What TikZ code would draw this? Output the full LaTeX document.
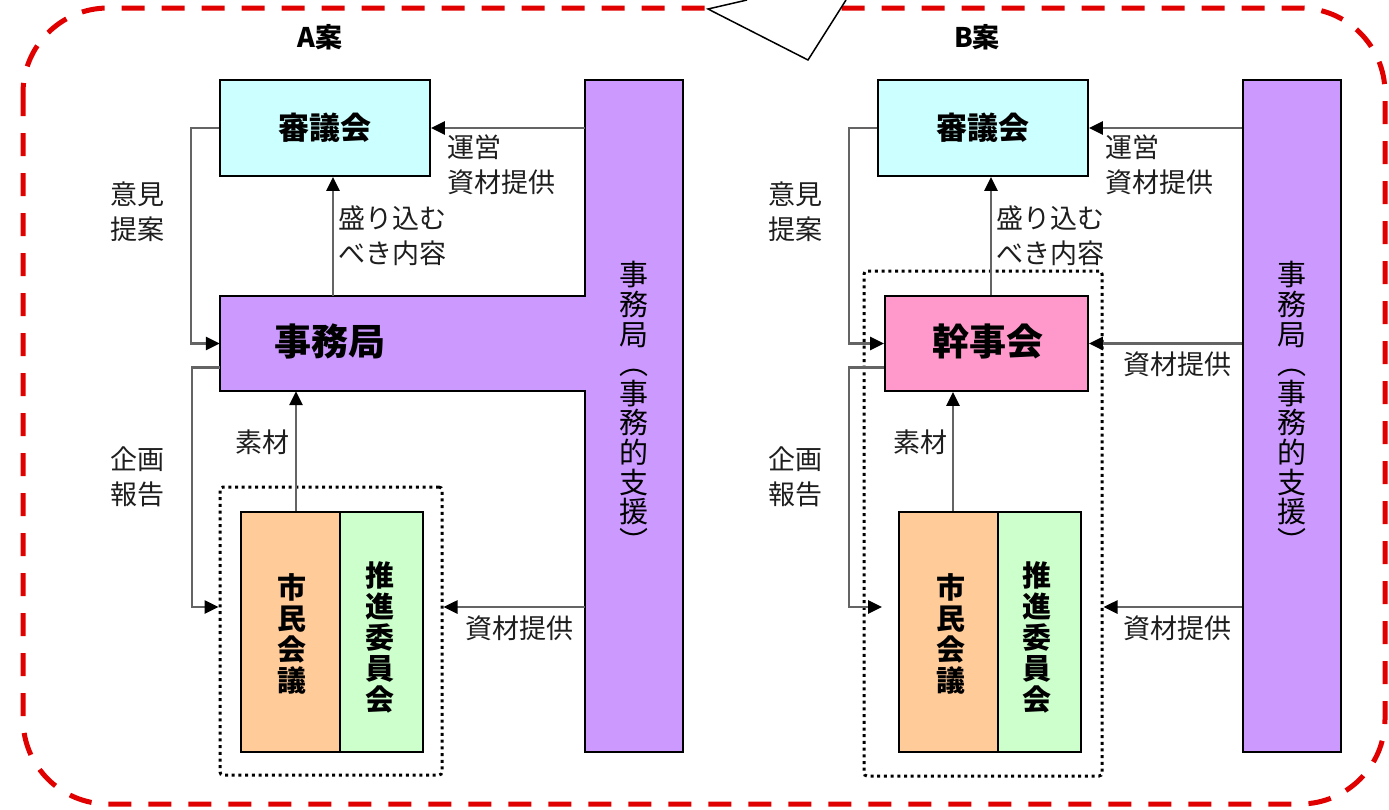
\documentclass[tikz,border=0pt]{standalone}
\usepackage{fontspec}
\setmainfont{Noto Sans CJK JP}
\usetikzlibrary{arrows.meta,calc}
\definecolor{cyanbox}{HTML}{CCFFFF}
\definecolor{purplebox}{HTML}{CC99FF}
\definecolor{pinkbox}{HTML}{FF99CC}
\definecolor{orangebox}{HTML}{FFCC99}
\definecolor{greenbox}{HTML}{CCFFCC}
\definecolor{borderred}{RGB}{225,0,0}
\definecolor{conngray}{RGB}{100,100,100}
\definecolor{labeltext}{RGB}{30,30,30}
\begin{document}
\begin{tikzpicture}[x=1pt,y=-1pt,
  box/.style={draw=black, line width=1.8pt, inner sep=0pt},
  ghost/.style={draw=none, inner sep=0pt},
  dotbox/.style={draw=black, line width=3pt, dash pattern=on 3pt off 3.7pt, rounded corners=3pt, inner sep=0pt},
  conn/.style={draw=conngray, line width=2.6pt, -{Triangle[length=14pt,width=13pt,color=black]}},
  lbl/.style={font=\fontsize{27}{35}\selectfont, align=left, inner sep=0pt, text=labeltext},
  title/.style={font=\fontsize{31}{33}\selectfont\bfseries, inner sep=0pt},
  bigtitle/.style={font=\fontsize{37}{39}\selectfont\bfseries, inner sep=0pt},
  vtext/.style={font=\fontsize{29}{29.6}\selectfont, align=center, inner sep=0pt},
  vbold/.style={font=\fontsize{29}{31}\selectfont\bfseries, align=center, inner sep=0pt},
  head/.style={font=\fontsize{27}{29}\selectfont\bfseries, inner sep=0pt}]
\useasboundingbox (0,0) rectangle (1389,809);
\fill[white] (0,0) rectangle (1389,809);

% outer red dashed frame
\draw[borderred, line width=5pt, dash pattern=on 23pt off 17pt, rounded corners=85pt]
  (23,8) rectangle (1385,804);

% callout pointer
\fill[white] (747,0) -- (708,9) -- (808,60) -- (846,0) -- cycle;
\draw[black, line width=1.5pt, line join=miter] (747,0) -- (708,9) -- (808,60) -- (846,0);

% headings
\node[head] (headA) at (320,37) {A案};
\node[head] (headB) at (977,37) {B案};

% ================= A =================
\node[box, fill=cyanbox, minimum width=210pt, minimum height=96pt] (shingiA) at (325,128) {};
\node[title] (shingiAt) at (shingiA) {審議会};
\node[ghost, minimum width=98pt, minimum height=672pt] (barA) at (634,416) {};
\node[ghost, minimum width=365pt, minimum height=95pt] (jimuA) at (402.5,343.5) {};
\filldraw[fill=purplebox, draw=black, line width=1.8pt, line join=miter]
  (jimuA.north west) -- (barA.west |- jimuA.north) -- (barA.north west) -- (barA.north east)
  -- (barA.south east) -- (barA.south west) -- (barA.west |- jimuA.south) -- (jimuA.south west) -- cycle;
\node[bigtitle] (jimuAt) at (330,341) {事務局};
\node[vtext] (barAt) at (634,407) {事\\務\\局\\︵\\事\\務\\的\\支\\援\\︶};

\node[dotbox, minimum width=222pt, minimum height=288pt] (dotA) at (331,631) {};
\node[box, fill=orangebox, minimum width=99pt, minimum height=240pt] (shiminA) at (290.5,632) {};
\node[box, fill=greenbox, minimum width=83pt, minimum height=240pt] (suishinA) at (381.5,632) {};
\node[vbold] (shiminAt) at (292,634) {市\\民\\会\\議};
\node[vbold] (suishinAt) at (380,637) {推\\進\\委\\員\\会};

\coordinate (aTipL) at ([yshift=24pt]dotA.west);
\coordinate (aTipR) at ([yshift=24pt]dotA.east);

\draw[conn] (barA.west |- shingiA.east) -- (shingiA.east);
\draw[conn] ([xshift=8pt]shingiA.south |- jimuA.north) -- ([xshift=8pt]shingiA.south);
\draw[conn] (shingiA.west) -- ++(-28,0) |- (jimuA.west);
\draw[conn] ([yshift=-24pt]jimuA.west) -- ++(-28,0) |- (aTipL);
\draw[conn] ([xshift=5.5pt]shiminA.north) -- ([xshift=5.5pt]shiminA.north |- jimuA.south);
\draw[conn] (barA.west |- aTipR) -- (aTipR);

\node[lbl, anchor=west] (lA1) at (447,165) {運営\\資材提供};
\node[lbl, anchor=west] (lA2) at (338,236) {盛り込む\\べき内容};
\node[lbl, anchor=west] (lA3) at (110,212) {意見\\提案};
\node[lbl, anchor=west] (lA4) at (110,477) {企画\\報告};
\node[lbl, anchor=west] (lA5) at (235,442) {素材};
\node[lbl, anchor=west] (lA6) at (465,628) {資材提供};

% ================= B =================
\node[box, fill=cyanbox, minimum width=210pt, minimum height=96pt] (shingiB) at (983,128) {};
\node[title] (shingiBt) at (shingiB) {審議会};
\node[box, fill=purplebox, minimum width=98pt, minimum height=672pt] (barB) at (1292,416) {};
\node[vtext] (barBt) at (1292,407) {事\\務\\局\\︵\\事\\務\\的\\支\\援\\︶};

\node[dotbox, minimum width=238pt, minimum height=505pt] (dotB) at (983,523.5) {};
\node[box, fill=pinkbox, minimum width=203pt, minimum height=95pt] (kanjiB) at (986.5,343.5) {};
\node[bigtitle] (kanjiBt) at (987.5,341) {幹事会};
\node[box, fill=orangebox, minimum width=99pt, minimum height=240pt] (shiminB) at (948.5,632) {};
\node[box, fill=greenbox, minimum width=83pt, minimum height=240pt] (suishinB) at (1039.5,632) {};
\node[vbold] (shiminBt) at (951,634) {市\\民\\会\\議};
\node[vbold] (suishinBt) at (1037,637) {推\\進\\委\\員\\会};

\coordinate (bTipL) at (882,607);
\coordinate (bTipR) at (dotB.east |- bTipL);

\draw[conn] (barB.west |- shingiB.east) -- (shingiB.east);
\draw[conn] ([xshift=8pt]shingiB.south |- kanjiB.north) -- ([xshift=8pt]shingiB.south);
\draw[conn] (shingiB.west) -- ++(-28,0) |- (kanjiB.west);
\draw[conn] ([yshift=-24pt]kanjiB.west) -- ++(-35,0) |- (bTipL);
\draw[conn] ([xshift=4.5pt]shiminB.north) -- ([xshift=4.5pt]shiminB.north |- kanjiB.south);
\draw[conn] (barB.west |- kanjiB.east) -- (kanjiB.east);
\draw[conn] (barB.west |- bTipR) -- (bTipR);

\node[lbl, anchor=west] (lB1) at (1105,165) {運営\\資材提供};
\node[lbl, anchor=west] (lB2) at (996,236) {盛り込む\\べき内容};
\node[lbl, anchor=west] (lB3) at (768,212) {意見\\提案};
\node[lbl, anchor=west] (lB4) at (768,477) {企画\\報告};
\node[lbl, anchor=west] (lB5) at (893,442) {素材};
\node[lbl, anchor=west] (lB6) at (1123,364) {資材提供};
\node[lbl, anchor=west] (lB7) at (1123,628) {資材提供};
\end{tikzpicture}
\end{document}
